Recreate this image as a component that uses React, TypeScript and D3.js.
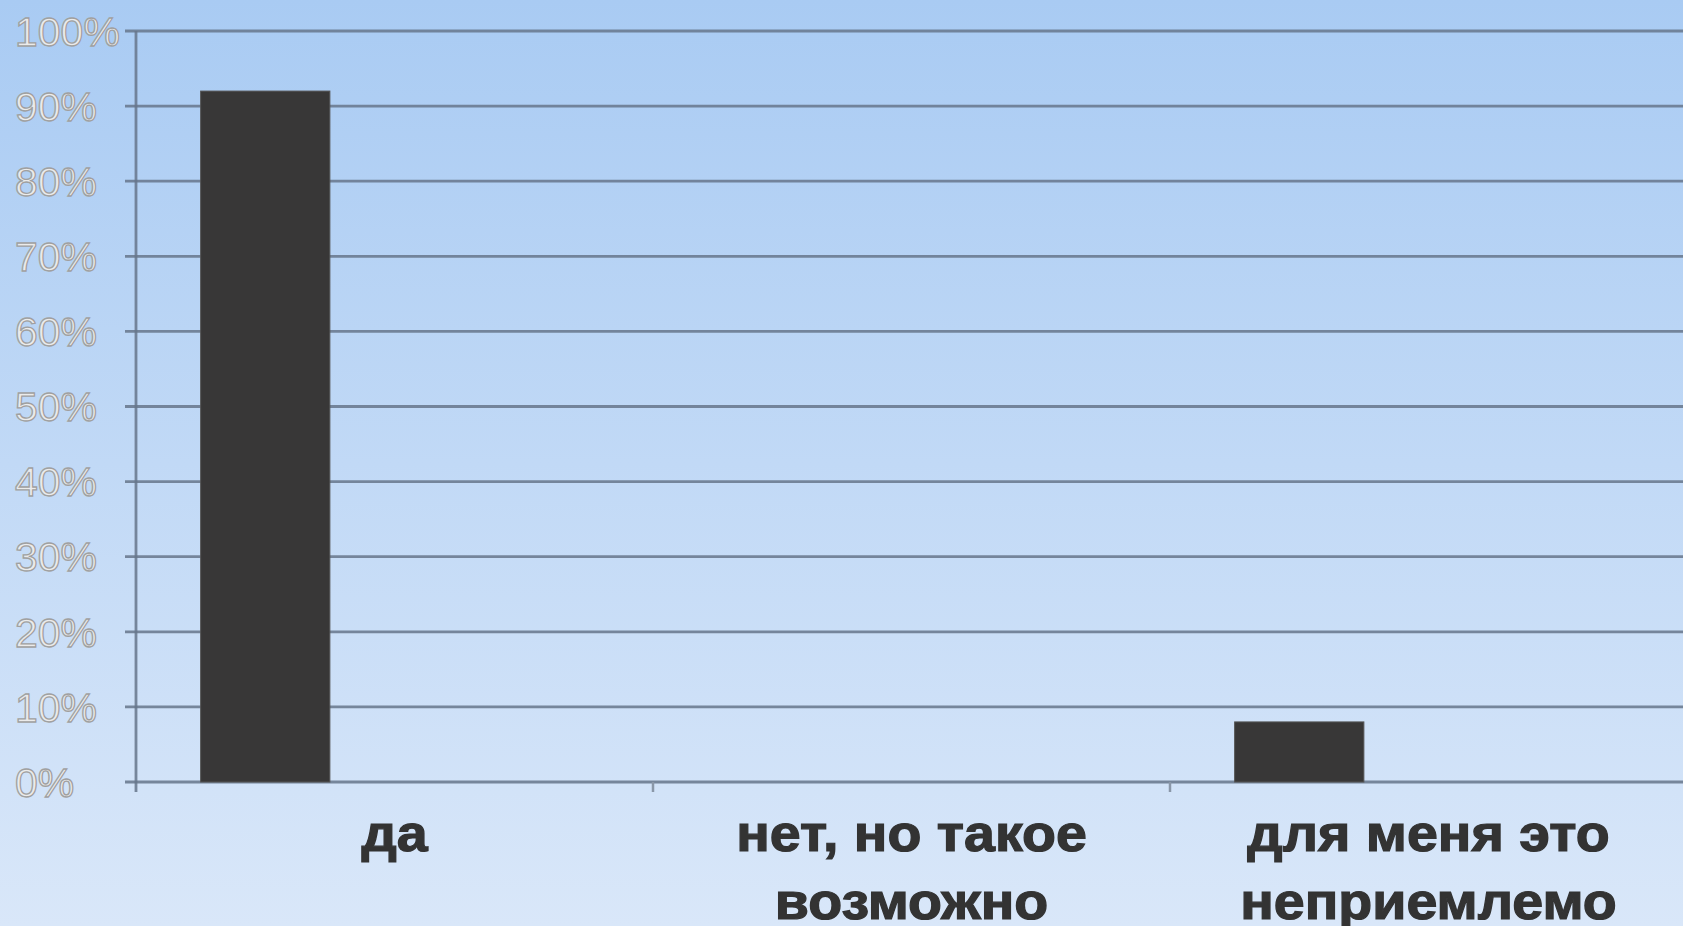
import React, { useEffect, useRef } from 'react';
import * as d3 from 'd3';

// ── Data ──────────────────────────────────────────────────────────────────────
const CATEGORIES = ['да', 'нет, но такое возможно', 'для меня это неприемлемо'];
const CATEGORY_LINES = [['да'], ['нет, но такое', 'возможно'], ['для меня это', 'неприемлемо']];
const VALUES = [0.92, 0, 0.08];
const Y_TICKS = [0, 0.1, 0.2, 0.3, 0.4, 0.5, 0.6, 0.7, 0.8, 0.9, 1];

const W = 1683;
const H = 926;

export default function App() {
  const svgRef = useRef<SVGSVGElement>(null);

  useEffect(() => {
    if (!svgRef.current) return;
    const svg = d3.select(svgRef.current);
    svg.selectAll('*').remove();

    // ── Layout ───────────────────────────────────────────────────────────────
    const left = 136;
    const right = 1687;
    const top = 31;
    const bottom = 782;

    const x = d3.scaleBand<string>().domain(CATEGORIES).range([left, right]).padding(0);
    const y = d3.scaleLinear().domain([0, 1]).range([bottom, top]);

    // ── Background ───────────────────────────────────────────────────────────
    const defs = svg.append('defs');
    const bg = defs.append('linearGradient').attr('id', 'bg').attr('x1', 0).attr('y1', 0).attr('x2', 0).attr('y2', 1);
    bg.append('stop').attr('offset', '0%').attr('stop-color', '#a9cbf3');
    bg.append('stop').attr('offset', '100%').attr('stop-color', '#d9e7f9');
    svg.append('rect').attr('width', W).attr('height', H).attr('fill', 'url(#bg)');

    // ── Gridlines ────────────────────────────────────────────────────────────
    svg.append('g')
      .selectAll('line')
      .data(Y_TICKS)
      .join('line')
      .attr('x1', left - 11).attr('x2', W)
      .attr('y1', d => y(d)).attr('y2', d => y(d))
      .attr('stroke', '#66768b').attr('stroke-opacity', 0.85).attr('stroke-width', 2.8);

    // vertical axis
    svg.append('line')
      .attr('x1', left).attr('x2', left)
      .attr('y1', top).attr('y2', bottom + 10)
      .attr('stroke', '#66768b').attr('stroke-opacity', 0.85).attr('stroke-width', 2.8);

    // category ticks
    svg.append('g')
      .selectAll('line')
      .data(CATEGORIES.slice(1))
      .join('line')
      .attr('x1', d => x(d)!).attr('x2', d => x(d)!)
      .attr('y1', bottom).attr('y2', bottom + 10)
      .attr('stroke', '#8a97a8').attr('stroke-width', 2.5);

    // ── Bars ─────────────────────────────────────────────────────────────────
    const bw = x.bandwidth();
    svg.append('g')
      .selectAll('rect')
      .data(CATEGORIES.map((c, i) => ({ c, v: VALUES[i] })).filter(d => d.v > 0))
      .join('rect')
      .attr('x', d => x(d.c)! + bw * 0.125)
      .attr('width', bw * 0.25)
      .attr('y', d => y(d.v))
      .attr('height', d => bottom - y(d.v))
      .attr('fill', '#383737')
      .attr('stroke', '#555').attr('stroke-width', 1);

    // ── Y labels ─────────────────────────────────────────────────────────────
    svg.append('g')
      .selectAll('text')
      .data(Y_TICKS)
      .join('text')
      .attr('x', 15)
      .attr('y', d => y(d))
      .attr('dy', '0.36em')
      .attr('font-family', 'Arial, "Liberation Sans", sans-serif')
      .attr('font-size', 41)
      .attr('fill', '#ebebeb')
      .attr('stroke', '#a0a0a0')
      .attr('stroke-width', 1.3)
      .text(d => `${Math.round(d * 100)}%`);

    // ── Category labels ──────────────────────────────────────────────────────
    CATEGORIES.forEach((c, i) => {
      const cx = x(c)! + bw / 2;
      CATEGORY_LINES[i].forEach((line, j) => {
        svg.append('text')
          .attr('transform', `translate(${cx},${851 + j * 68}) scale(1.09,1)`)
          .attr('text-anchor', 'middle')
          .attr('font-family', 'Arial, "Liberation Sans", sans-serif')
          .attr('font-weight', 'bold')
          .attr('font-size', 51)
          .attr('fill', '#333333')
          .attr('stroke', '#333333')
          .attr('stroke-width', 1.2)
          .text(line);
      });
    });
  }, []);

  return (
    <div style={{ position: 'fixed', left: 0, top: 0, width: W, height: H, overflow: 'hidden' }}>
      <svg ref={svgRef} width={W} height={H} style={{ display: 'block' }} />
    </div>
  );
}
